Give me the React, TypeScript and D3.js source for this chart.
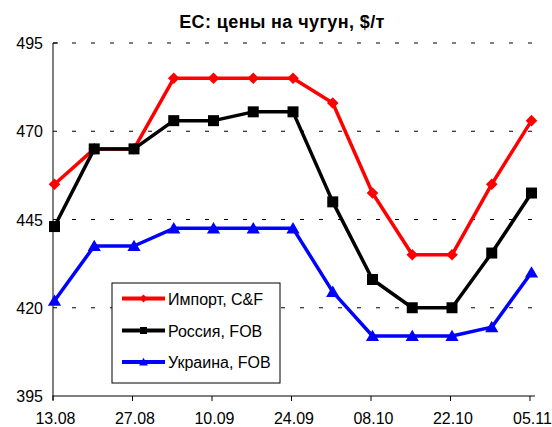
import React from "react";
import * as d3 from "d3";

const weeks = ["13.08", "20.08", "27.08", "03.09", "10.09", "17.09", "24.09", "01.10", "08.10", "15.10", "22.10", "29.10", "05.11"];
const tickWeeks = ["13.08", "27.08", "10.09", "24.09", "08.10", "22.10", "05.11"];
const yTicks = [395, 420, 445, 470, 495];

const importCF = [455, 465, 465, 485, 485, 485, 485, 478, 452.5, 435, 435, 455, 473];
const russiaFOB = [443, 465, 465, 473, 473, 475.5, 475.5, 450, 428, 420, 420, 435.5, 452.5];
const ukraineFOB = [422, 437.5, 437.5, 442.5, 442.5, 442.5, 442.5, 424.5, 412, 412, 412, 414.5, 430];

const W = 552;
const H = 427;
const m = { top: 43, right: 17, bottom: 31, left: 53 };
const font = "'Liberation Sans', Arial, sans-serif";

type Marker = "diamond" | "square" | "triangle";

const markerPath = (kind: Marker, s: number) => {
    if (kind === "diamond") return `M0,${-s}L${s},0L0,${s}L${-s},0Z`;
    if (kind === "square") return `M${-s},${-s}H${s}V${s}H${-s}Z`;
    return `M0,${-s * 1.05}L${s * 1.1},${s * 0.85}L${-s * 1.1},${s * 0.85}Z`;
};

const series = [
    { name: "Импорт, C&F", values: importCF, color: "#ff0000", marker: "diamond" as Marker, size: 5.8 },
    { name: "Россия, FOB", values: russiaFOB, color: "#000000", marker: "square" as Marker, size: 5.5 },
    { name: "Украина, FOB", values: ukraineFOB, color: "#0000ff", marker: "triangle" as Marker, size: 6 },
];

export default function App() {
    const x = d3
        .scalePoint<string>()
        .domain(weeks)
        .range([m.left + 1.5, W - m.right - 3.5]);
    const y = d3
        .scaleLinear()
        .domain([395, 495])
        .range([H - m.bottom, m.top]);

    const line = d3
        .line<number>()
        .x((_, i) => x(weeks[i])!)
        .y((d) => y(d));

    const x0 = m.left;
    const x1 = W - m.right;
    const yb = y(395);

    // legend
    const lg = { x: 112, y: 283, w: 168, h: 100 };
    const rowY = [298.5, 330.5, 362];

    return (
        <svg width={W} height={H} style={{ display: "block", position: "absolute", left: 0, top: 0 }} fontFamily={font}>
            <rect width={W} height={H} fill="#fff" />
            <text x={282} y={28} textAnchor="middle" fontSize={18} fontWeight="bold" letterSpacing={0.4}>
                ЕС: цены на чугун, $/т
            </text>

            {/* grid */}
            {yTicks.slice(1).map((t) => (
                <line key={t} x1={x0} x2={x1} y1={y(t)} y2={y(t)} stroke="#000" strokeWidth={1} strokeDasharray="4 15" />
            ))}

            {/* axes */}
            <line x1={x0} x2={x0} y1={y(495)} y2={yb + 4} stroke="#000" />
            <line x1={x0} x2={x0 + 5} y1={y(495)} y2={y(495)} stroke="#000" />
            <line x1={x0 - 0.5} x2={x1} y1={yb} y2={yb} stroke="#000" />
            {tickWeeks.map((w) => (
                <g key={w}>
                    <line x1={x(w)! - 1.5} x2={x(w)! - 1.5} y1={yb} y2={yb + 5} stroke="#000" />
                    <text x={x(w)! + 1} y={424} textAnchor="middle" fontSize={16}>
                        {w}
                    </text>
                </g>
            ))}
            {yTicks.map((t) => (
                <text key={t} x={43} y={y(t) + 6} textAnchor="end" fontSize={16}>
                    {t}
                </text>
            ))}

            {/* series */}
            {series.map((s) => (
                <g key={s.name}>
                    <path d={line(s.values)!} fill="none" stroke={s.color} strokeWidth={3.5} strokeLinejoin="round" />
                    {s.values.map((v, i) => (
                        <path key={i} transform={`translate(${x(weeks[i])},${y(v)})`} d={markerPath(s.marker, s.size)} fill={s.color} />
                    ))}
                </g>
            ))}

            {/* legend */}
            <rect x={lg.x} y={lg.y} width={lg.w} height={lg.h} fill="#fff" stroke="#000" strokeWidth={1} />
            {series.map((s, i) => (
                <g key={s.name}>
                    <line x1={122} x2={165} y1={rowY[i]} y2={rowY[i]} stroke={s.color} strokeWidth={4} />
                    <path transform={`translate(143.5,${rowY[i]})`} d={markerPath(s.marker, s.marker === "square" ? 3.5 : 4)} fill={s.color} />
                    <text x={168} y={rowY[i] + 6} fontSize={16}>
                        {s.name}
                    </text>
                </g>
            ))}
        </svg>
    );
}
